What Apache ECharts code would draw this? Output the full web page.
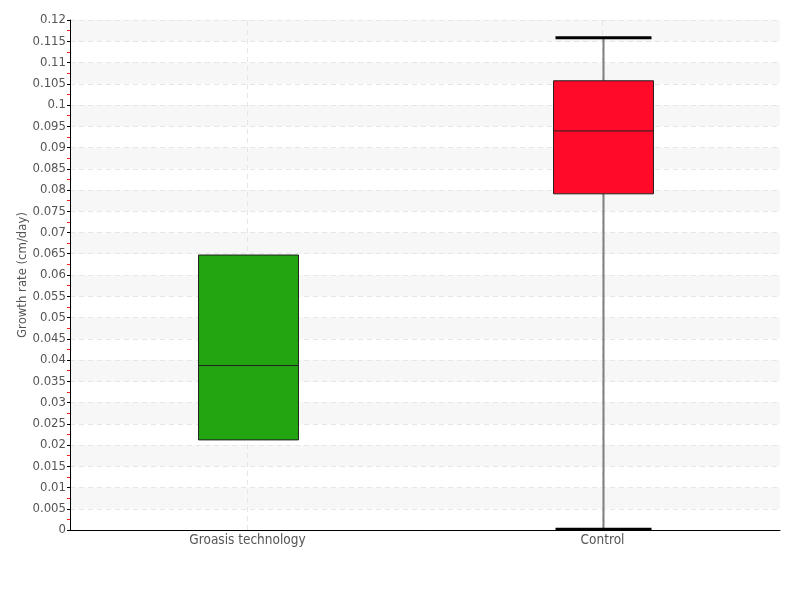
<!DOCTYPE html>
<html>
<head>
<meta charset="utf-8">
<script src="https://cdn.jsdelivr.net/npm/echarts@6/dist/echarts.min.js"></script>
<style>html,body{margin:0;padding:0;background:#fff}#c{width:800px;height:600px}</style>
</head>
<body>
<div id="c"></div>
<script>
const categories = ['Groasis technology', 'Control'];
const boxMin = [0.0212, 0.0002];
const boxQ1 = [0.0212, 0.0791];
const boxMedian = [0.0387, 0.0939];
const boxQ3 = [0.0647, 0.1057];
const boxMax = [0.0647, 0.1158];
const boxColors = ['#22a511', '#ff0a28'];
const yMin = 0, yMax = 0.12, yStep = 0.005;
const yTitle = 'Growth rate (cm/day)';

const FONT = '"DejaVu Sans Condensed", "Liberation Sans Narrow", sans-serif';
const seriesData = categories.map((c, i) => [i, boxMin[i], boxQ1[i], boxMedian[i], boxQ3[i], boxMax[i]]);

function renderItem(params, api) {
  const idx = api.value(0);
  const bandW = api.size([1, 0])[0];
  const halfBox = bandW * 0.1408;
  const halfCap = bandW * 0.1352;
  const pMin = api.coord([idx, api.value(1)]);
  const pQ1 = api.coord([idx, api.value(2)]);
  const pMed = api.coord([idx, api.value(3)]);
  const pQ3 = api.coord([idx, api.value(4)]);
  const pMax = api.coord([idx, api.value(5)]);
  const cx = Math.round(pMed[0]) + 0.5;
  const children = [];
  if (Math.abs(pMax[1] - pQ3[1]) > 1) {
    children.push({type: 'line', shape: {x1: cx, y1: pQ3[1], x2: cx, y2: pMax[1]}, style: {stroke: '#7f7f7f', lineWidth: 2}});
    children.push({type: 'line', shape: {x1: cx - halfCap, y1: pMax[1], x2: cx + halfCap, y2: pMax[1]}, style: {stroke: '#000', lineWidth: 3}});
  }
  if (Math.abs(pMin[1] - pQ1[1]) > 1) {
    children.push({type: 'line', shape: {x1: cx, y1: pQ1[1], x2: cx, y2: pMin[1]}, style: {stroke: '#7f7f7f', lineWidth: 2}});
    children.push({type: 'line', shape: {x1: cx - halfCap, y1: pMin[1], x2: cx + halfCap, y2: pMin[1]}, style: {stroke: '#000', lineWidth: 3}});
  }
  children.push({type: 'rect', shape: {x: cx - halfBox, y: pQ3[1], width: halfBox * 2, height: pQ1[1] - pQ3[1]},
    style: {fill: boxColors[params.dataIndex], stroke: '#222', lineWidth: 1}});
  children.push({type: 'line', shape: {x1: cx - halfBox, y1: pMed[1], x2: cx + halfBox, y2: pMed[1]}, style: {stroke: '#222', lineWidth: 1}});
  return {type: 'group', children};
}

const chart = echarts.init(document.getElementById('c'), null, {renderer: 'canvas'});
chart.setOption({
  animation: false,
  backgroundColor: '#fff',
  grid: {left: 70, right: 20, top: 20, bottom: 70, containLabel: false, outerBoundsMode: 'none'},
  xAxis: {
    type: 'category',
    data: categories,
    boundaryGap: true,
    axisLine: {show: true, lineStyle: {color: '#000', width: 1}},
    axisTick: {show: false},
    axisLabel: {color: '#555', fontFamily: FONT, fontSize: 13.5, margin: 3},
    splitLine: {show: false}
  },
  yAxis: {
    type: 'value',
    min: yMin, max: yMax, interval: yStep,
    name: yTitle,
    nameLocation: 'middle',
    nameRotate: 90,
    nameGap: 41,
    nameMoveOverlap: false,
    nameTextStyle: {color: '#555', fontFamily: FONT, fontSize: 13},
    axisLine: {show: true, lineStyle: {color: '#000', width: 1}},
    axisTick: {show: true, length: 3, lineStyle: {color: '#000'}},
    minorTick: {show: true, splitNumber: 2, length: 3, lineStyle: {color: '#ff2020', width: 1}},
    axisLabel: {color: '#555', fontFamily: FONT, fontSize: 13, margin: 4},
    splitLine: {show: true, lineStyle: {color: '#e6e6e6', type: [5, 4], width: 1}},
    splitArea: {show: true, areaStyle: {color: ['rgba(255,255,255,0)', '#f7f7f7']}}
  },
  series: [{
    type: 'custom',
    z: 3,
    renderItem: renderItem,
    encode: {x: 0, y: [1, 2, 3, 4, 5]},
    data: seriesData,
    markLine: {
      z: 1,
      silent: true,
      symbol: 'none',
      label: {show: false},
      lineStyle: {color: '#e6e6e6', type: [5, 4], width: 1},
      data: categories.map(c => ({xAxis: c}))
    }
  }]
});
</script>
</body>
</html>
